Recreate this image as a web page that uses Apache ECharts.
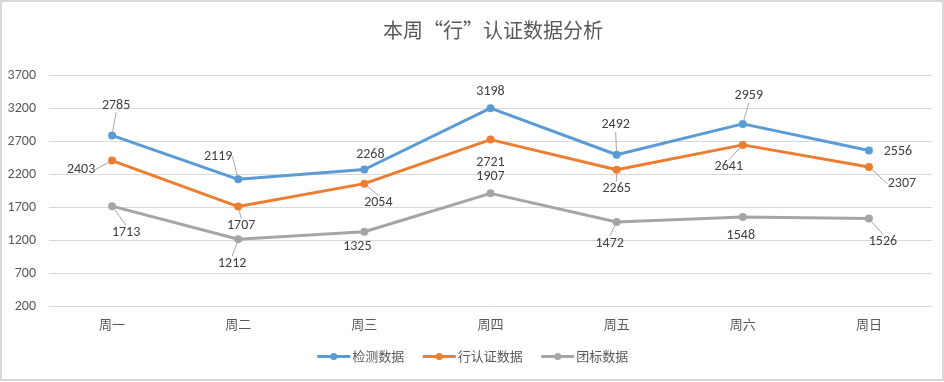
<!DOCTYPE html>
<html>
<head>
<meta charset="utf-8">
<script src="https://cdn.jsdelivr.net/npm/echarts@6/dist/echarts.min.js"></script>
<style>
html,body{margin:0;padding:0;background:#fff;}
#wrap{position:relative;width:944px;height:382px;}
#chart{width:944px;height:382px;}
#frame{position:absolute;left:0;top:0;width:944px;height:381px;box-sizing:border-box;border:2px solid #D9D9D9;pointer-events:none;}
</style>
</head>
<body>
<div id="wrap"><div id="chart"></div><div id="frame"></div></div>
<script>
const titleText = '本周“行”认证数据分析';
const categories = ['周一','周二','周三','周四','周五','周六','周日'];
const seriesNames = ['检测数据','行认证数据','团标数据'];
const detectData = [2785, 2119, 2268, 3198, 2492, 2959, 2556];
const certData = [2403, 1707, 2054, 2721, 2265, 2641, 2307];
const groupData = [1713, 1212, 1325, 1907, 1472, 1548, 1526];
const yMin = 200, yMax = 3700, yInterval = 500;

// label offsets (layout only) relative to each point
const labelOffsets = [
  [[4,-30],[-20,-23],[6,-15],[0,-17],[-1,-30],[6,-28],[29,1]],
  [[-31,9],[3,19],[14,19],[0,23],[0,19],[-14,22],[33,17]],
  [[14,26],[-6,24],[-7,15],[0,-17],[-7,21],[-2,18],[14,23]]
];
// whether each label shows a leader line (style only)
const leaderShow = [
  [1,1,0,0,1,1,0],
  [1,1,1,0,1,1,1],
  [1,1,0,0,1,0,1]
];
const colors = ['#5B9BD5','#ED7D31','#A5A5A5'];
const numFont = 'Carlito, Calibri, "Liberation Sans", "Noto Sans CJK SC", sans-serif';
const cjkFont = '"Microsoft YaHei", "Noto Sans CJK SC", sans-serif';

function mkSeries(name, data, idx){
  return {
    name: name,
    type: 'line',
    data: data.map(function(v, i){
      return {value: v, labelLine: {show: !!leaderShow[idx][i]}};
    }),
    symbol: 'circle',
    symbolSize: 8,
    lineStyle: {width: 3, color: colors[idx]},
    itemStyle: {color: colors[idx]},
    label: {
      show: true,
      position: 'inside',
      color: '#404040',
      fontSize: 14,
      fontFamily: numFont
    },
    labelLine: {show: true, lineStyle: {color: '#A6A6A6', width: 1}},
    labelLayout: function(p){
      const o = labelOffsets[idx][p.dataIndex];
      return {dx: o[0], dy: o[1]};
    },
    emphasis: {disabled: true},
    animation: false
  };
}

const chart = echarts.init(document.getElementById('chart'), null, {renderer: 'canvas'});
chart.setOption({
  animation: false,
  color: colors,
  title: {
    text: titleText,
    left: 378,
    top: 15,
    textStyle: {fontSize: 20, fontWeight: 'normal', color: '#595959', fontFamily: cjkFont}
  },
  legend: {
    data: seriesNames,
    bottom: 14,
    left: 'center',
    itemWidth: 33,
    itemHeight: 9,
    itemGap: 17,
    lineStyle: {width: 3},
    textStyle: {fontSize: 13, color: '#595959', fontFamily: cjkFont, padding: [0,0,0,-3]}
  },
  grid: {left: 49, right: 12, top: 75, bottom: 76, containLabel: false},
  xAxis: {
    type: 'category',
    data: categories,
    boundaryGap: true,
    axisLine: {show: false},
    axisTick: {show: false},
    axisLabel: {color: '#595959', fontSize: 13, margin: 12, fontFamily: cjkFont}
  },
  yAxis: {
    type: 'value',
    min: yMin,
    max: yMax,
    interval: yInterval,
    axisLine: {show: false},
    axisTick: {show: false},
    axisLabel: {color: '#595959', fontSize: 14, margin: 13, fontFamily: numFont,
      formatter: function(v){ return String(v); }},
    splitLine: {lineStyle: {color: '#D9D9D9', width: 1}}
  },
  series: [
    mkSeries(seriesNames[0], detectData, 0),
    mkSeries(seriesNames[1], certData, 1),
    mkSeries(seriesNames[2], groupData, 2)
  ]
});
</script>
</body>
</html>
